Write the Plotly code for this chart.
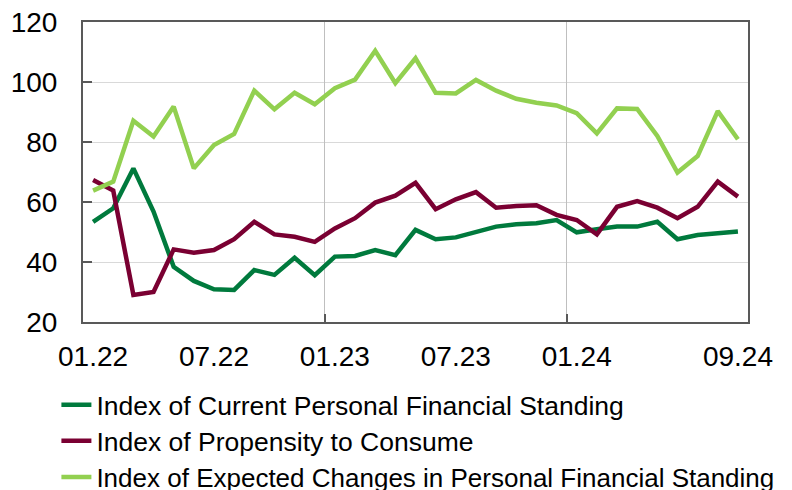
import plotly.graph_objects as go

months = ["01.22","02.22","03.22","04.22","05.22","06.22","07.22","08.22","09.22","10.22","11.22","12.22",
          "01.23","02.23","03.23","04.23","05.23","06.23","07.23","08.23","09.23","10.23","11.23","12.23",
          "01.24","02.24","03.24","04.24","05.24","06.24","07.24","08.24","09.24"]

current = [53.4, 57.9, 71.2, 56.8, 38.4, 33.7, 30.9, 30.7, 37.3, 35.7, 41.4, 35.6,
           41.8, 42.0, 44.0, 42.3, 50.7, 47.6, 48.2, 50.1, 51.8, 52.6, 52.9, 54.0,
           49.9, 50.9, 51.8, 51.8, 53.4, 47.6, 49.0, 49.6, 50.2]

propensity = [67.3, 63.8, 29.0, 30.0, 44.2, 43.1, 44.0, 47.6, 53.4, 49.2, 48.4, 46.7,
              51.2, 54.6, 59.8, 62.1, 66.4, 57.6, 60.9, 63.3, 58.1, 58.7, 58.9, 55.7,
              54.0, 49.2, 58.4, 60.3, 58.1, 54.6, 58.4, 66.8, 61.8]

expected = [63.8, 66.8, 87.1, 81.8, 91.8, 71.2, 79.0, 82.7, 97.1, 90.9, 96.4, 92.6,
            97.9, 100.8, 110.4, 99.6, 107.9, 96.4, 96.2, 100.7, 97.1, 94.4, 93.1, 92.2,
            89.6, 82.9, 91.2, 91.0, 82.0, 69.8, 75.3, 90.3, 80.9]

tick_labels = ["01.22", "07.22", "01.23", "07.23", "01.24", "09.24"]
year_starts = ["01.23", "01.24"]

names = ["Index of Current Personal Financial Standing",
         "Index of Propensity to Consume",
         "Index of Expected Changes in Personal Financial Standing"]
colors = ["#007A3D", "#7A0032", "#92D050"]

idx = list(range(len(months)))
tick_pos = [months.index(t) for t in tick_labels]
grid_pos = [months.index(t) - 0.5 for t in year_starts]

FONT = "Liberation Sans, Arial, sans-serif"
legend_ids = ["legend", "legend2", "legend3"]
legend_y = [-0.277, -0.397, -0.517]
legend_size = [26.5, 26.5, 26]

fig = go.Figure()
for name, ys, c, lg in zip(names, [current, propensity, expected], colors, legend_ids):
    fig.add_trace(go.Scatter(x=idx, y=ys, mode="lines", name=name, legend=lg,
                             line=dict(color=c, width=4.5)))
fig.add_trace(go.Scatter(x=[None], y=[None], xaxis="x2", showlegend=False,
                         hoverinfo="skip"))

def legend_cfg(y, size):
    return dict(x=-0.04, y=y, xanchor="left", yanchor="middle",
                font=dict(size=size), bgcolor="rgba(0,0,0,0)")

xr = [-0.5, len(months) - 0.5]
fig.update_layout(
    width=784, height=482,
    margin=dict(l=75, r=44, t=14, b=168, autoexpand=False),
    paper_bgcolor="white", plot_bgcolor="white",
    font=dict(family=FONT, size=26, color="black"),
    showlegend=True,
    legend=legend_cfg(legend_y[0], legend_size[0]),
    legend2=legend_cfg(legend_y[1], legend_size[1]),
    legend3=legend_cfg(legend_y[2], legend_size[2]),
    xaxis=dict(range=xr, tickvals=tick_pos, ticktext=tick_labels, ticks="",
               showgrid=False, zeroline=False, showline=True, mirror=True,
               linecolor="#595959", linewidth=2, tickfont=dict(size=28),
               ticklabelstandoff=8, automargin=False, ticklabeloverflow="allow"),
    xaxis2=dict(range=xr, overlaying="x", anchor="y", tickvals=grid_pos,
                ticks="inside", ticklen=8, tickwidth=2, tickcolor="#595959",
                showgrid=True, gridcolor="#BFBFBF", gridwidth=1,
                showticklabels=False, showline=False, zeroline=False,
                automargin=False),
    yaxis=dict(range=[20, 120], dtick=20, ticks="inside", ticklen=9, tickwidth=2,
               tickcolor="#595959", showgrid=True, gridcolor="#D9D9D9", gridwidth=1,
               zeroline=False, showline=True, mirror=True, linecolor="#595959",
               linewidth=2, tickfont=dict(size=28), ticklabelstandoff=18,
               automargin=False, ticklabeloverflow="allow"),
)

fig.write_html("out.html")
